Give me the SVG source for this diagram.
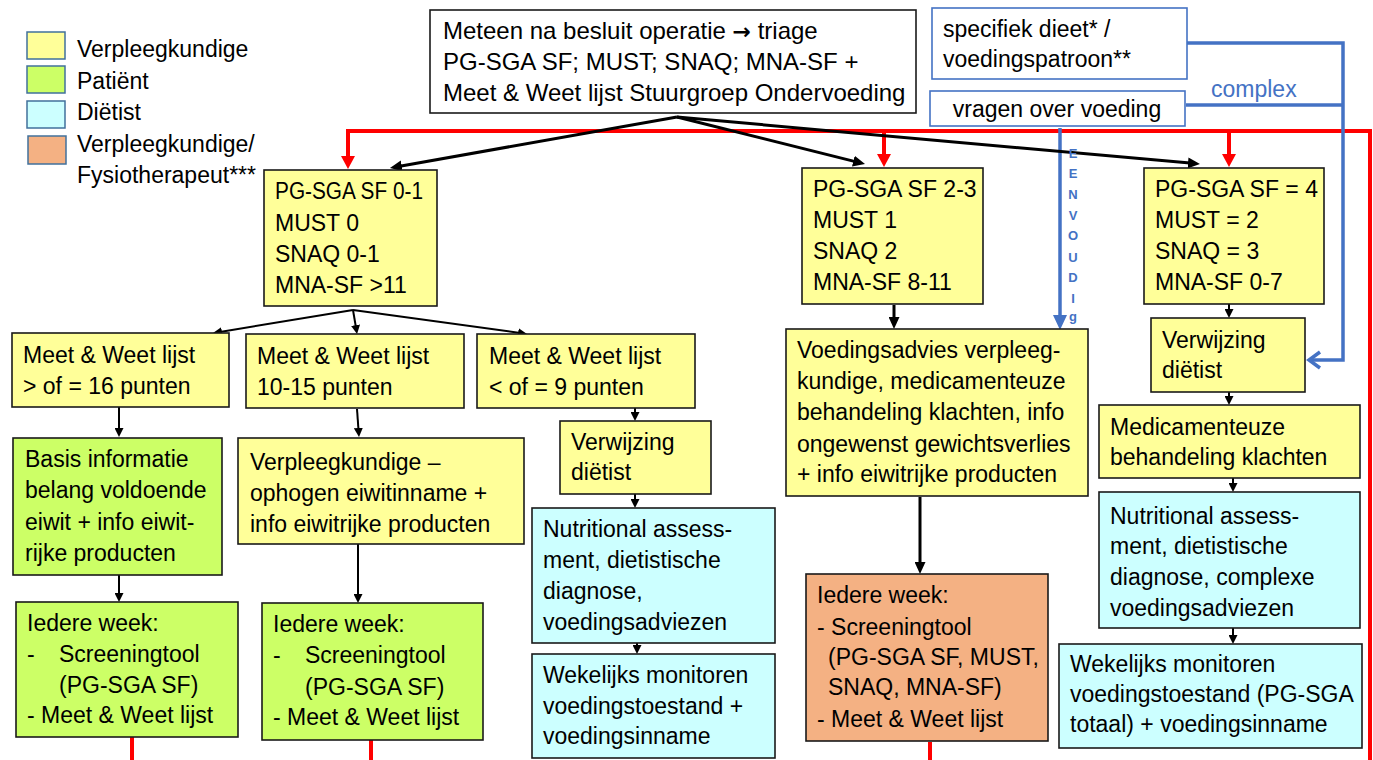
<svg xmlns="http://www.w3.org/2000/svg" width="1373" height="760" viewBox="0 0 1373 760">
<style>
text{font-family:"Liberation Sans",Arial,sans-serif;font-size:23px;fill:#000}
.big{font-size:24px}
.arr{font-family:"DejaVu Sans",sans-serif;font-weight:bold;font-size:22px}
.box{stroke:#1a1a1a;stroke-width:1.6}
.y{fill:#FFFF99}.g{fill:#CCFF66}.c{fill:#CCFFFF}.o{fill:#F4B183}.w{fill:#fff}
.bb{fill:#fff;stroke:#4472C4;stroke-width:1.6}
.sw{stroke:#41719C;stroke-width:1.5}
.k3{stroke:#000;stroke-width:3;fill:none}
.k2{stroke:#000;stroke-width:2;fill:none}
.r{stroke:#FF0000;stroke-width:4;fill:none}
.bl{stroke:#4472C4;stroke-width:3.5;fill:none}
.ev{font-size:13px;font-weight:bold;fill:#4472C4;text-anchor:middle}
</style>
<defs>
<marker id="mb" markerUnits="userSpaceOnUse" markerWidth="12" markerHeight="11" refX="2" refY="5.5" orient="auto"><path d="M0,0 L12,5.5 L0,11 z" fill="#000"/></marker>
<marker id="ms" markerUnits="userSpaceOnUse" markerWidth="9" markerHeight="9" refX="2" refY="4.5" orient="auto"><path d="M0,0 L9,4.5 L0,9 z" fill="#000"/></marker>
<marker id="mr" markerUnits="userSpaceOnUse" markerWidth="13" markerHeight="14" refX="2" refY="7" orient="auto"><path d="M0,0 L13,7 L0,14 z" fill="#FF0000"/></marker>
<marker id="mbl" markerUnits="userSpaceOnUse" markerWidth="15" markerHeight="14" refX="2" refY="7" orient="auto"><path d="M0,0 L15,7 L0,14 z" fill="#4472C4"/></marker>
<marker id="mblo" markerUnits="userSpaceOnUse" markerWidth="16" markerHeight="20" refX="13" refY="10" orient="auto"><path d="M2,2 L13,10 L2,18" fill="none" stroke="#4472C4" stroke-width="3.5"/></marker>
</defs>

<g id="legend">
<rect class="y sw" x="27" y="32" width="38" height="27"/>
<rect class="g sw" x="27" y="66" width="38" height="27"/>
<rect class="c sw" x="27" y="101" width="38" height="27"/>
<rect class="o sw" x="28" y="136" width="38" height="28"/>
<text x="77" y="57">Verpleegkundige</text>
<text x="77" y="89">Patiënt</text>
<text x="77" y="120">Diëtist</text>
<text x="77" y="152">Verpleegkundige/</text>
<text x="77" y="183">Fysiotherapeut***</text>
</g>

<g id="connectors">
<path class="r" d="M1370,760 V131 H348 V158" marker-end="url(#mr)"/>
<path class="r" d="M884,131 V156" marker-end="url(#mr)"/>
<path class="r" d="M1229,131 V156" marker-end="url(#mr)"/>
<path class="r" d="M132,737 V760"/>
<path class="r" d="M371,740 V760"/>
<path class="r" d="M930,742 V760"/>
<path class="bl" d="M1187,43 H1343 V360 H1309" marker-end="url(#mblo)"/>
<path class="bl" d="M1186,105 H1343"/>
<path class="bl" d="M1060,128 V317" marker-end="url(#mbl)"/>
<path class="k3" d="M677,117 L399.8,166.2" marker-end="url(#mb)"/>
<path class="k3" d="M677,117 L855.3,161.6" marker-end="url(#mb)"/>
<path class="k3" d="M677,117 L1190,163.1" marker-end="url(#mb)"/>
<path class="k2" d="M353,310 L219.9,331.9" marker-end="url(#ms)"/>
<path class="k2" d="M353,310 L355.9,327.1" marker-end="url(#ms)"/>
<path class="k2" d="M353,310 L520.1,333" marker-end="url(#ms)"/>
<path class="k2" d="M119,407 V430" marker-end="url(#ms)"/>
<path class="k2" d="M119,575 V595" marker-end="url(#ms)"/>
<path class="k2" d="M357,409 L358.5,430" marker-end="url(#ms)"/>
<path class="k2" d="M358,544 V596" marker-end="url(#ms)"/>
<path class="k2" d="M635,408 V414" marker-end="url(#ms)"/>
<path class="k2" d="M635,494 V501" marker-end="url(#ms)"/>
<path class="k2" d="M637,643 V647" marker-end="url(#ms)"/>
<path class="k3" d="M894,305 V319" marker-end="url(#mb)"/>
<path class="k3" d="M920,497 V564" marker-end="url(#mb)"/>
<path class="k2" d="M1229,304 V311" marker-end="url(#ms)"/>
<path class="k2" d="M1229,392 V398" marker-end="url(#ms)"/>
<path class="k2" d="M1233,478 V485" marker-end="url(#ms)"/>
<path class="k2" d="M1233,628 V637" marker-end="url(#ms)"/>
<text class="ev" x="1073" y="158">E</text>
<text class="ev" x="1073" y="178">E</text>
<text class="ev" x="1073" y="199">N</text>
<text class="ev" x="1073" y="220">V</text>
<text class="ev" x="1073" y="240">O</text>
<text class="ev" x="1073" y="262">U</text>
<text class="ev" x="1073" y="282">D</text>
<text class="ev" x="1073" y="303">I</text>
<text class="ev" x="1073" y="321">g</text>
<text x="1211" y="97" style="fill:#4472C4">complex</text>
</g>

<g id="triage">
<rect class="box w" x="430" y="10" width="486" height="103"/>
<text class="big" x="443" y="39">Meteen na besluit operatie <tspan class="arr">→</tspan> triage</text>
<text class="big" x="443" y="70">PG-SGA SF; MUST; SNAQ; MNA-SF +</text>
<text class="big" x="443" y="101">Meet &amp; Weet lijst Stuurgroep Ondervoeding</text>
</g>

<g id="specifiek">
<rect class="bb" x="932" y="8" width="255" height="71"/>
<text x="943" y="37">specifiek dieet* /</text>
<text x="943" y="67">voedingspatroon**</text>
</g>

<g id="vragen">
<rect class="bb" x="930" y="91" width="255" height="35"/>
<text x="1057" y="117" text-anchor="middle">vragen over voeding</text>
</g>

<g id="score-laag">
<rect class="box y" x="264" y="170" width="173" height="136"/>
<text x="275" y="199" textLength="148" lengthAdjust="spacingAndGlyphs">PG-SGA SF 0-1</text>
<text x="275" y="231">MUST 0</text>
<text x="275" y="262">SNAQ 0-1</text>
<text x="275" y="293">MNA-SF &gt;11</text>
</g>

<g id="score-midden">
<rect class="box y" x="802" y="168" width="181" height="136"/>
<text x="813" y="197">PG-SGA SF 2-3</text>
<text x="813" y="228">MUST 1</text>
<text x="813" y="259">SNAQ 2</text>
<text x="813" y="290">MNA-SF 8-11</text>
</g>

<g id="score-hoog">
<rect class="box y" x="1144" y="168" width="180" height="136"/>
<text x="1155" y="197">PG-SGA SF = 4</text>
<text x="1155" y="228">MUST = 2</text>
<text x="1155" y="259">SNAQ = 3</text>
<text x="1155" y="290">MNA-SF 0-7</text>
</g>

<g id="mw-16">
<rect class="box y" x="12" y="333" width="217" height="74"/>
<text x="23" y="363">Meet &amp; Weet lijst</text>
<text x="23" y="394">&gt; of = 16 punten</text>
</g>

<g id="mw-10-15">
<rect class="box y" x="246" y="334" width="218" height="74"/>
<text x="257" y="364">Meet &amp; Weet lijst</text>
<text x="257" y="395">10-15 punten</text>
</g>

<g id="mw-9">
<rect class="box y" x="477" y="334" width="218" height="74"/>
<text x="489" y="364">Meet &amp; Weet lijst</text>
<text x="489" y="395">&lt; of = 9 punten</text>
</g>

<g id="basis-info">
<rect class="box g" x="13" y="438" width="209" height="137"/>
<text x="25" y="467">Basis informatie</text>
<text x="25" y="498">belang voldoende</text>
<text x="25" y="530">eiwit + info eiwit-</text>
<text x="25" y="561">rijke producten</text>
</g>

<g id="ophogen">
<rect class="box y" x="238" y="438" width="286" height="106"/>
<text x="250" y="470">Verpleegkundige –</text>
<text x="250" y="501">ophogen eiwitinname +</text>
<text x="250" y="532">info eiwitrijke producten</text>
</g>

<g id="week-1">
<rect class="box g" x="16" y="602" width="222" height="135"/>
<text x="27" y="631">Iedere week:</text>
<text x="27" y="662">-</text>
<text x="59" y="662">Screeningtool</text>
<text x="59" y="693">(PG-SGA SF)</text>
<text x="27" y="723">- Meet &amp; Weet lijst</text>
</g>

<g id="week-2">
<rect class="box g" x="262" y="603" width="221" height="137"/>
<text x="273" y="632">Iedere week:</text>
<text x="273" y="663">-</text>
<text x="305" y="663">Screeningtool</text>
<text x="305" y="695">(PG-SGA SF)</text>
<text x="273" y="725">- Meet &amp; Weet lijst</text>
</g>

<g id="verwijzing-1">
<rect class="box y" x="560" y="421" width="151" height="73"/>
<text x="571" y="450">Verwijzing</text>
<text x="571" y="480">diëtist</text>
</g>

<g id="assessment-1">
<rect class="box c" x="532" y="508" width="243" height="135"/>
<text x="543" y="537">Nutritional assess-</text>
<text x="543" y="568">ment, dietistische</text>
<text x="543" y="599">diagnose,</text>
<text x="543" y="630">voedingsadviezen</text>
</g>

<g id="monitoren-1">
<rect class="box c" x="532" y="654" width="243" height="104"/>
<text x="543" y="683">Wekelijks monitoren</text>
<text x="543" y="714">voedingstoestand +</text>
<text x="543" y="744">voedingsinname</text>
</g>

<g id="voedingsadvies">
<rect class="box y" x="786" y="329" width="302" height="167"/>
<text x="797" y="358">Voedingsadvies verpleeg-</text>
<text x="797" y="389">kundige, medicamenteuze</text>
<text x="797" y="420">behandeling klachten, info</text>
<text x="797" y="452">ongewenst gewichtsverlies</text>
<text x="797" y="482">+ info eiwitrijke producten</text>
</g>

<g id="week-3">
<rect class="box o" x="806" y="574" width="242" height="167"/>
<text x="817" y="603">Iedere week:</text>
<text x="817" y="635">- Screeningtool</text>
<text x="828" y="665">(PG-SGA SF, MUST,</text>
<text x="828" y="695">SNAQ, MNA-SF)</text>
<text x="817" y="727">- Meet &amp; Weet lijst</text>
</g>

<g id="verwijzing-2">
<rect class="box y" x="1151" y="318" width="154" height="74"/>
<text x="1162" y="348">Verwijzing</text>
<text x="1162" y="378">diëtist</text>
</g>

<g id="medicamenteuze">
<rect class="box y" x="1099" y="405" width="261" height="73"/>
<text x="1110" y="435">Medicamenteuze</text>
<text x="1110" y="465">behandeling klachten</text>
</g>

<g id="assessment-2">
<rect class="box c" x="1099" y="492" width="261" height="136"/>
<text x="1110" y="524">Nutritional assess-</text>
<text x="1110" y="554">ment, dietistische</text>
<text x="1110" y="585">diagnose, complexe</text>
<text x="1110" y="616">voedingsadviezen</text>
</g>

<g id="monitoren-2">
<rect class="box c" x="1059" y="644" width="303" height="104"/>
<text x="1070" y="672">Wekelijks monitoren</text>
<text x="1070" y="702">voedingstoestand (PG-SGA</text>
<text x="1070" y="732">totaal) + voedingsinname</text>
</g>
</svg>
